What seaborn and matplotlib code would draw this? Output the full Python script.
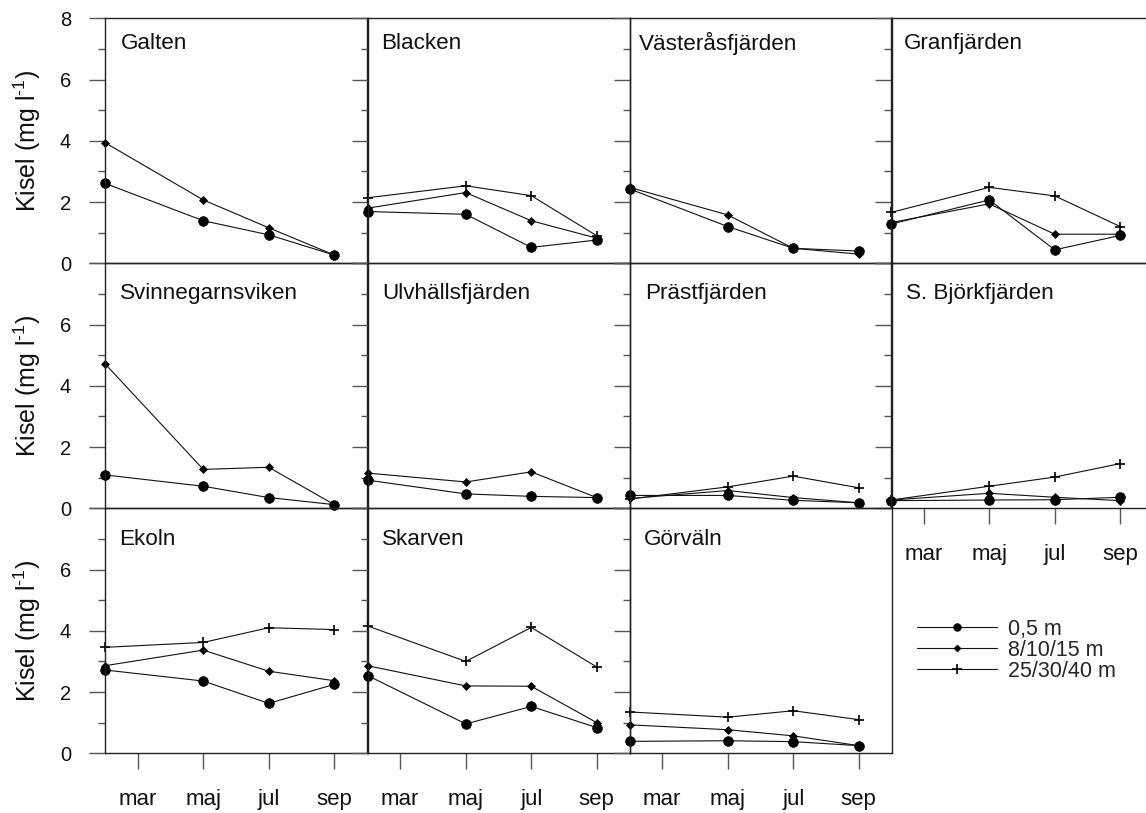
import matplotlib
matplotlib.use('Agg')
import matplotlib.pyplot as plt
import seaborn as sns
import pandas as pd
from matplotlib.lines import Line2D

# ---------------- data ----------------
stations = ["Galten", "Blacken", "Västeråsfjärden", "Granfjärden",
            "Svinnegarnsviken", "Ulvhällsfjärden", "Prästfjärden", "S. Björkfjärden",
            "Ekoln", "Skarven", "Görväln"]
sample_months = [2, 5, 7, 9]
month_ticks = [3, 5, 7, 9]
month_labels = ["mar", "maj", "jul", "sep"]
depth_labels = ["0,5 m", "8/10/15 m", "25/30/40 m"]

si_05m = [
    [2.61, 1.39, 0.93, 0.27],
    [1.69, 1.60, 0.52, 0.76],
    [2.43, 1.20, 0.49, 0.40],
    [1.28, 2.07, 0.44, 0.91],
    [1.09, 0.72, 0.35, 0.12],
    [0.92, 0.47, 0.39, 0.35],
    [0.42, 0.42, 0.26, 0.18],
    [0.25, 0.27, 0.28, 0.36],
    [2.72, 2.36, 1.63, 2.25],
    [2.54, 0.96, 1.53, 0.84],
    [0.39, 0.41, 0.38, 0.25],
]
si_mid = [
    [3.94, 2.07, 1.16, 0.27],
    [1.80, 2.31, 1.39, 0.82],
    [2.48, 1.58, 0.49, 0.30],
    [1.33, 1.94, 0.95, 0.95],
    [4.72, 1.27, 1.34, 0.12],
    [1.15, 0.86, 1.19, 0.35],
    [0.32, 0.58, 0.35, 0.18],
    [0.27, 0.49, 0.36, 0.25],
    [2.86, 3.37, 2.68, 2.37],
    [2.86, 2.20, 2.19, 1.00],
    [0.93, 0.77, 0.57, 0.25],
]
si_deep = [
    None,
    [2.14, 2.53, 2.21, 0.90],
    None,
    [1.66, 2.48, 2.20, 1.20],
    None,
    None,
    [0.30, 0.70, 1.05, 0.67],
    [0.27, 0.72, 1.02, 1.46],
    [3.46, 3.62, 4.10, 4.04],
    [4.16, 3.00, 4.11, 2.82],
    [1.35, 1.18, 1.39, 1.10],
]

# ---------------- style ----------------
sns.set_theme(style="ticks")
plt.rcParams['font.family'] = ['Liberation Sans', 'DejaVu Sans']
plt.rcParams['mathtext.fontset'] = 'custom'
plt.rcParams['mathtext.rm'] = 'Liberation Sans'
plt.rcParams['mathtext.it'] = 'Liberation Sans:italic'
plt.rcParams['mathtext.default'] = 'regular'

W, H = 1146, 813
fig = plt.figure(figsize=(W / 100, H / 100), dpi=100)

col_left = [105, 367.5, 629.5, 891]
panel_w = 262
row_top = [18.3, 263.3, 508.3]
panel_h = 245
title_offset = [25, 30, 31]
title_dx = [16, 14, 9, 13, 15, 15, 16, 15, 14, 14, 14]

marker_styles = [
    dict(marker='o', ms=7, mfc='black', mec='black', mew=0.5),
    dict(marker='D', ms=4.4, mfc='black', mec='black', mew=0.5),
    dict(marker='+', ms=7.5, mfc='none', mec='black', mew=1.2),
]
line_color = '#111111'
tick_color = '#555555'
spine_color = '#222222'
text_color = '#111111'

bottom_panels = {7, 8, 9, 10}

for i, name in enumerate(stations):
    r, c = divmod(i, 4)
    left = col_left[c] / W
    bottom = 1 - (row_top[r] + panel_h) / H
    ax = fig.add_axes([left, bottom, panel_w / W, panel_h / H])
    ax.set_facecolor('none')

    series = [si_05m[i], si_mid[i], si_deep[i]]
    for d, vals in enumerate(series):
        if vals is None:
            continue
        df = pd.DataFrame({"month": sample_months, "kisel": vals})
        sns.lineplot(data=df, x="month", y="kisel", ax=ax, color=line_color,
                     lw=0.8, legend=False, clip_on=False, **marker_styles[d])

    ax.set_xlim(2, 10)
    ax.set_ylim(0, 8)
    ax.set_xlabel("")
    ax.set_ylabel("")

    for s in ax.spines.values():
        s.set_color(spine_color)
        s.set_linewidth(1.0)

    # y ticks
    ax.set_yticks([0, 2, 4, 6, 8])
    ax.set_yticks([1, 3, 5, 7], minor=True)
    ax.tick_params(axis='y', which='major', left=True, direction='out', length=11.5,
                   width=1.0, color=tick_color, pad=13, labelsize=14.5, labelcolor=text_color)
    ax.tick_params(axis='y', which='minor', left=True, direction='out', length=5,
                   width=1.0, color=tick_color)
    if c == 0:
        if r == 0:
            ax.set_yticklabels(['0', '2', '4', '6', '8'])
        else:
            ax.set_yticklabels(['0', '2', '4', '6', ''])
        fig.text(27 / W, 1 - (row_top[r] + panel_h / 2) / H, r'Kisel (mg l$^{\text{-}1}$)',
                 rotation=90, ha='center', va='center', fontsize=18, color=text_color)
    else:
        ax.tick_params(axis='y', labelleft=False)

    # x ticks
    ax.set_xticks(month_ticks)
    if i in bottom_panels:
        ax.set_xticklabels(month_labels)
        ax.tick_params(axis='x', which='major', bottom=True, direction='out', length=11.5,
                       width=1.0, color=tick_color, pad=14, labelsize=16,
                       labelcolor=text_color)
    else:
        ax.tick_params(axis='x', bottom=False, labelbottom=False)
    ax.tick_params(axis='x', which='minor', bottom=False)

    ax.text(title_dx[i] / panel_w, 1 - title_offset[r] / panel_h, name, transform=ax.transAxes,
            ha='left', va='center', fontsize=16.2, color=text_color)

# legend
handles = [Line2D([], [], color=line_color, lw=0.8, **dict(marker_styles[0], ms=5.5)),
           Line2D([], [], color=line_color, lw=0.8, **dict(marker_styles[1], ms=3.5)),
           Line2D([], [], color=line_color, lw=0.8, **dict(marker_styles[2], ms=6.5))]
fig.legend(handles, depth_labels, loc='upper left',
           bbox_to_anchor=(917 / W, 1 - 619 / H), frameon=False, fontsize=15.5,
           handlelength=3.7, handletextpad=0.55, labelspacing=0.0, borderpad=0,
           borderaxespad=0)

fig.savefig("out.png", dpi=100)
